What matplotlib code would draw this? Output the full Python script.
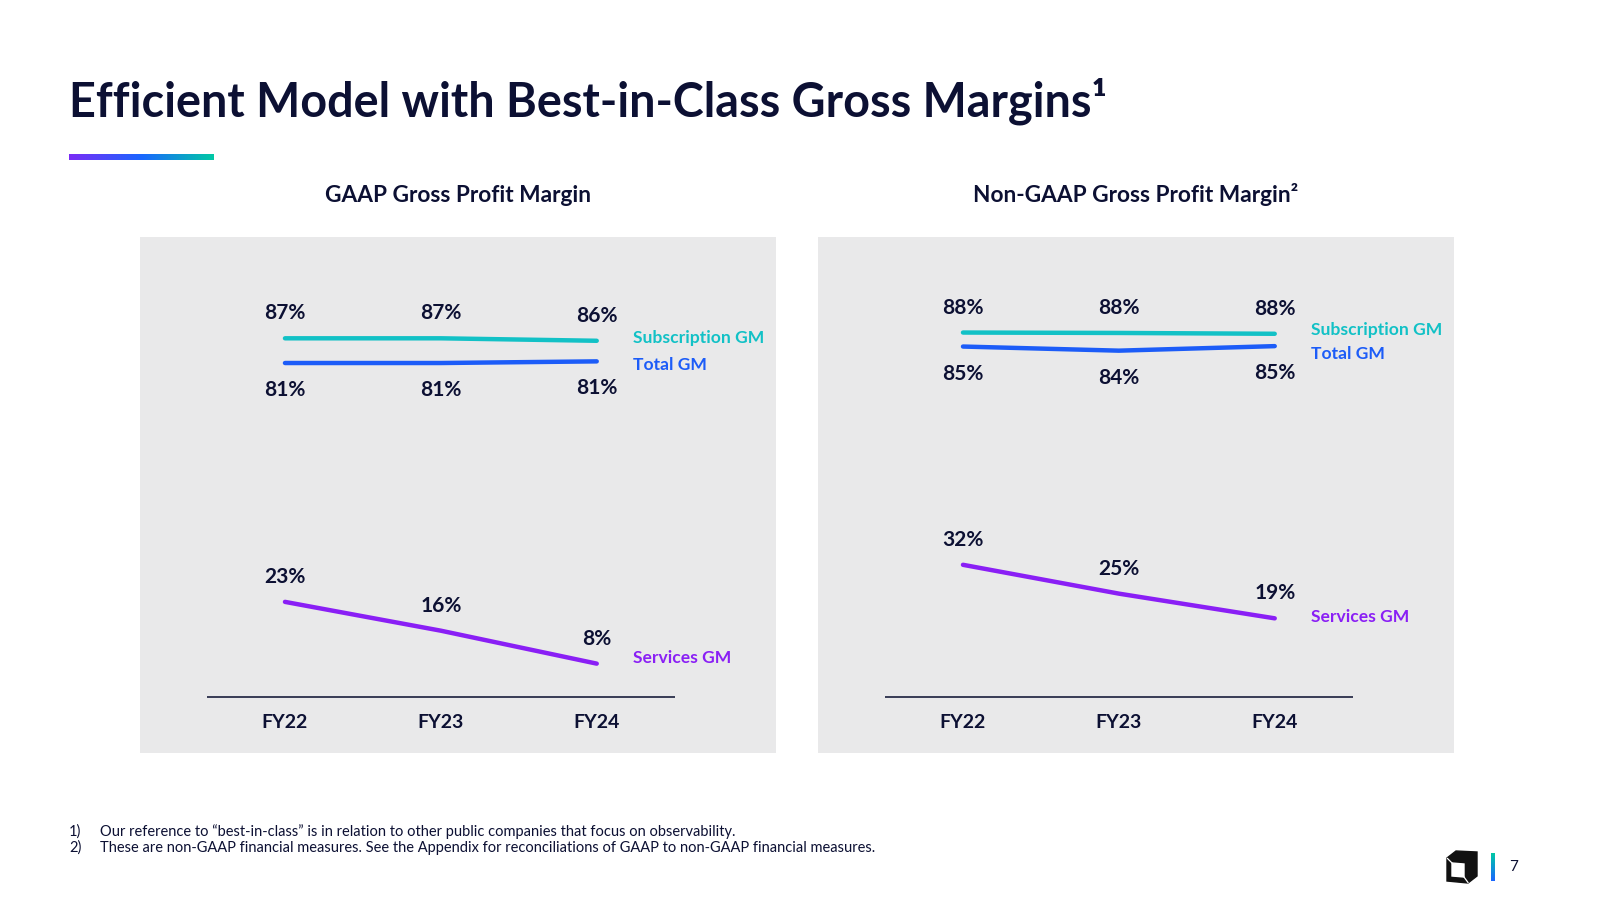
import matplotlib
matplotlib.use("Agg")
import matplotlib.pyplot as plt
import numpy as np
from matplotlib.colors import LinearSegmentedColormap
from matplotlib.patches import Polygon

# data
years = ["FY22", "FY23", "FY24"]

gaap_subscription = [87.0, 87.0, 86.4]
gaap_total = [81.0, 81.0, 81.4]
gaap_services = [23, 16, 8]

nongaap_subscription = [88.4, 88.3, 88.1]
nongaap_total = [85.0, 84.0, 85.1]
nongaap_services = [32, 25, 19]

series_names = ["Subscription GM", "Total GM", "Services GM"]

title = "Efficient Model with Best-in-Class Gross Margins\u00b9"
panel_titles = ["GAAP Gross Profit Margin", "Non-GAAP Gross Profit Margin\u00b2"]
footnotes = [
    ("1)", "Our reference to \u201cbest-in-class\u201d is in relation to other public companies that focus on observability."),
    ("2)", "These are non-GAAP financial measures. See the Appendix for reconciliations of GAAP to non-GAAP financial measures."),
]

# style
NAVY = "#0c1033"
TEAL = "#12c1c6"
BLUE = "#1c5cf8"
PURPLE = "#8a1ff5"
PANEL = "#e9e9ea"
colors = [TEAL, BLUE, PURPLE]

plt.rcParams["font.family"] = ["Lato", "DejaVu Sans"]

W, H = 1600, 900
fig = plt.figure(figsize=(16, 9), dpi=100)
fig.patch.set_facecolor("white")


def fx(x):
    return x / W


def fy(y):
    return 1 - y / H


# title + gradient bar
fig.text(fx(69), fy(101), title, fontsize=33.7, fontweight="bold", color=NAVY,
         ha="left", va="center")

grad_ax = fig.add_axes([fx(69), fy(160), fx(214 - 69), 6 / H])
cmap = LinearSegmentedColormap.from_list("brand", ["#7b2cf6", "#1a66ff", "#00c9a5"])
grad_ax.imshow(np.linspace(0, 1, 256).reshape(1, -1), cmap=cmap, aspect="auto")
grad_ax.axis("off")

panels = [
    (140, [gaap_subscription, gaap_total, gaap_services], [2, -2.5, 4]),
    (818, [nongaap_subscription, nongaap_total, nongaap_services], [3, -6, 1]),
]

x = np.arange(len(years))
for i, (left, series, name_dy) in enumerate(panels):
    ax = fig.add_axes([fx(left), fy(753), 636 / W, 516 / H])
    ax.set_facecolor(PANEL)
    ax.set_xlim(-0.93, 3.15)
    ax.set_ylim(-13.7, 111.6)
    for s in ax.spines.values():
        s.set_visible(False)
    ax.set_xticks([])
    ax.set_yticks([])

    # baseline
    ax.hlines(0, -0.5, 2.5, color="#2a2e4a", linewidth=1.3)

    for k, vals in enumerate(series):
        ax.plot(x, vals, color=colors[k], linewidth=3.2, solid_capstyle="round",
                solid_joinstyle="round")
        dy = -19.5 if k == 1 else 18
        for xi, v in zip(x, vals):
            ax.annotate(f"{v:.0f}%", (xi, v), xytext=(0, dy), textcoords="offset points",
                        ha="center", va="center", fontsize=15, fontweight="bold", color=NAVY)
        ax.annotate(series_names[k], (x[-1], vals[-1]), xytext=(26, name_dy[k]),
                    textcoords="offset points", ha="left", va="center",
                    fontsize=12.6, fontweight="bold", color=colors[k])

    for xi, yr in zip(x, years):
        ax.annotate(yr, (xi, 0), xytext=(0, -19), textcoords="offset points",
                    ha="center", va="center", fontsize=14, fontweight="bold", color=NAVY)

    fig.text(fx(left + 318), fy(202), panel_titles[i], fontsize=16.3, fontweight="bold",
             color=NAVY, ha="center", va="baseline")

# footnotes
for j, (num, txt) in enumerate(footnotes):
    yy = fy(832 + 16 * j)
    fig.text(fx(69), yy, num, fontsize=10.5, color=NAVY, ha="left", va="center")
    fig.text(fx(100), yy, txt, fontsize=10.5, color=NAVY, ha="left", va="center")

# logo + page number
logo_ax = fig.add_axes([fx(1446), fy(884), 32 / W, 34 / H])
logo_ax.set_xlim(0, 32)
logo_ax.set_ylim(0, 34)
logo_ax.axis("off")
logo_ax.add_patch(Polygon([(1, 3), (22, 1), (31, 8), (31, 32), (10, 33), (1, 26)],
                          closed=True, color="#111111"))
logo_ax.add_patch(Polygon([(6, 8), (18, 7), (18, 20), (6, 21)], closed=True, color="white"))
logo_ax.plot([1.5, 6], [25.5, 21], color="white", linewidth=0.9)
logo_ax.plot([18, 22], [7, 1.5], color="white", linewidth=0.9)

bar_ax = fig.add_axes([fx(1491), fy(881), 4 / W, 28 / H])
bar_cmap = LinearSegmentedColormap.from_list("bar", ["#1a66ff", "#00c9a5"])
bar_ax.imshow(np.linspace(0, 1, 64).reshape(-1, 1), cmap=bar_cmap, aspect="auto", origin="lower")
bar_ax.axis("off")

fig.text(fx(1514), fy(867), "7", fontsize=11, color=NAVY, ha="center", va="center")

fig.savefig("out.png", dpi=100, facecolor="white")
